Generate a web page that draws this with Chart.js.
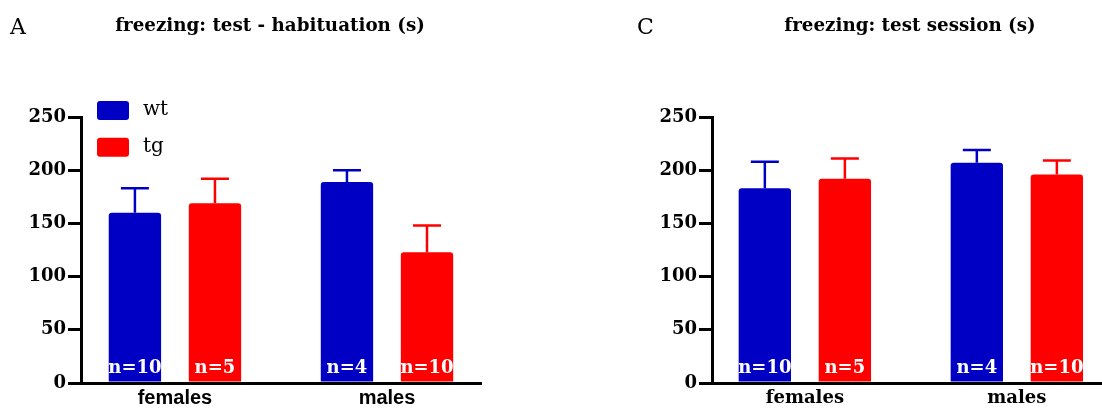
<!DOCTYPE html>
<html>
<head>
<meta charset="utf-8">
<script src="https://cdn.jsdelivr.net/npm/chart.js@4"></script>
<style>
  body { margin: 0; background: #fff; }
  #wrap { position: relative; width: 1102px; height: 408px; overflow: hidden; }
  canvas { position: absolute; top: 0; }
  .letter { position: absolute; top: 16px; font: 22px "DejaVu Serif"; line-height: 22px; color: #000; }
  .title { position: absolute; top: 16px; font: bold 18.3px "DejaVu Serif"; line-height: 18px; white-space: nowrap; transform: translateX(-50%); color: #000; }
</style>
</head>
<body>
<div id="wrap">
  <canvas id="chartA" width="551" height="408" style="left:0"></canvas>
  <canvas id="chartC" width="551" height="408" style="left:551px"></canvas>
  <div class="letter" style="left:10px">A</div>
  <div class="title" style="left:270px">freezing: test - habituation (s)</div>
  <div class="letter" style="left:637px">C</div>
  <div class="title" style="left:910px">freezing: test session (s)</div>
</div>
<script>
const categories = ['females', 'males'];
const seriesLabels = ['wt', 'tg'];
const seriesColors = ['#0000c4', '#ff0000'];
const yTicks = [0, 50, 100, 150, 200, 250];

// A: freezing, test - habituation (s)
const habitWt = [160, 189];
const habitTg = [169, 123];
const habitWtSem = [23, 11];
const habitTgSem = [23, 25];

// C: freezing, test session (s)
const sessionWt = [183, 207];
const sessionTg = [192, 196];
const sessionWtSem = [25, 12];
const sessionTgSem = [19, 13];

// group sizes
const nWt = [10, 4];
const nTg = [5, 10];

// error bars (upper only) + n labels inside the bars
const errorBars = {
  id: 'errorBars',
  afterDatasetsDraw(chart) {
    const ctx = chart.ctx;
    const y = chart.scales.y;
    chart.data.datasets.forEach((ds, i) => {
      const meta = chart.getDatasetMeta(i);
      meta.data.forEach((bar, j) => {
        const top = y.getPixelForValue(ds.data[j].y + ds.sem[j]);
        ctx.save();
        ctx.strokeStyle = ds.backgroundColor;
        ctx.lineWidth = 2.5;
        ctx.beginPath();
        ctx.moveTo(bar.x, bar.y);
        ctx.lineTo(bar.x, top);
        ctx.moveTo(bar.x - 14, top);
        ctx.lineTo(bar.x + 14, top);
        ctx.stroke();
        ctx.fillStyle = '#fff';
        ctx.font = 'bold 18px "DejaVu Serif"';
        ctx.textAlign = 'center';
        ctx.textBaseline = 'alphabetic';
        ctx.fillText('n=' + ds.n[j], bar.x, y.getPixelForValue(0) - 10);
        ctx.restore();
      });
    });
  }
};

// legend boxes stacked at the top left of the plot
const boxLegend = {
  id: 'boxLegend',
  afterDraw(chart, args, opts) {
    if (!opts.show) return;
    const ctx = chart.ctx;
    const area = chart.chartArea;
    chart.data.datasets.forEach((ds, i) => {
      const bx = area.left + 16;
      const by = area.top - 16 + i * 36.7;
      ctx.save();
      ctx.fillStyle = ds.backgroundColor;
      ctx.beginPath();
      ctx.roundRect(bx, by, 32, 19, 3);
      ctx.fill();
      ctx.fillStyle = '#000';
      ctx.font = '20px "DejaVu Serif"';
      ctx.textBaseline = 'middle';
      ctx.textAlign = 'left';
      ctx.fillText(ds.label, bx + 46, by + 9);
      ctx.restore();
    });
  }
};

function makeChart(id, wt, tg, wtSem, tgSem, cfg) {
  const toPoints = arr => arr.map((v, i) => ({ x: i, y: v }));
  const ctx = document.getElementById(id).getContext('2d');
  return new Chart(ctx, {
    type: 'bar',
    data: {
      datasets: [
        { label: seriesLabels[0], data: toPoints(wt), sem: wtSem, n: nWt, backgroundColor: seriesColors[0] },
        { label: seriesLabels[1], data: toPoints(tg), sem: tgSem, n: nTg, backgroundColor: seriesColors[1] }
      ]
    },
    options: {
      responsive: false,
      animation: false,
      layout: { padding: { top: 117, left: 0, right: cfg.padRight, bottom: 0 } },
      datasets: {
        bar: { categoryPercentage: 0.755, barPercentage: 0.654, borderRadius: 3, borderSkipped: 'start' }
      },
      plugins: {
        legend: { display: false },
        tooltip: { enabled: false },
        boxLegend: { show: cfg.legend }
      },
      scales: {
        x: {
          type: 'linear',
          offset: false,
          bounds: 'data',
          min: cfg.xMin,
          max: cfg.xMax,
          afterBuildTicks: s => { s.ticks = categories.map((c, i) => ({ value: i })); },
          afterFit: s => { s.height = 25; },
          grid: { display: false, drawTicks: false, offset: false },
          border: { display: true, color: '#000', width: 3 },
          ticks: {
            padding: cfg.xPad,
            color: '#000',
            font: cfg.xFont,
            callback: v => categories[v]
          }
        },
        y: {
          min: 0,
          max: 250,
          afterBuildTicks: s => { s.ticks = yTicks.map(v => ({ value: v })); },
          afterFit: s => { s.width = cfg.yWidth; },
          grid: { drawOnChartArea: false, drawTicks: true, tickLength: 13, color: '#000', lineWidth: 3 },
          border: { display: true, color: '#000', width: 3 },
          ticks: {
            padding: 2,
            color: '#000',
            font: { family: 'DejaVu Serif', weight: 'bold', size: 18 }
          }
        }
      }
    },
    plugins: [errorBars, boxLegend]
  });
}

makeChart('chartA', habitWt, habitTg, habitWtSem, habitTgSem, {
  padRight: 70, yWidth: 81, xMin: -0.443, xMax: 1.4434, legend: true, xPad: 3,
  xFont: { family: 'Liberation Sans', weight: 'bold', size: 20 }
});
makeChart('chartC', sessionWt, sessionTg, sessionWtSem, sessionTgSem, {
  padRight: 0, yWidth: 161, xMin: -0.438, xMax: 1.4017, legend: false, xPad: 5,
  xFont: { family: 'DejaVu Serif', weight: 'bold', size: 18 }
});
</script>
</body>
</html>
